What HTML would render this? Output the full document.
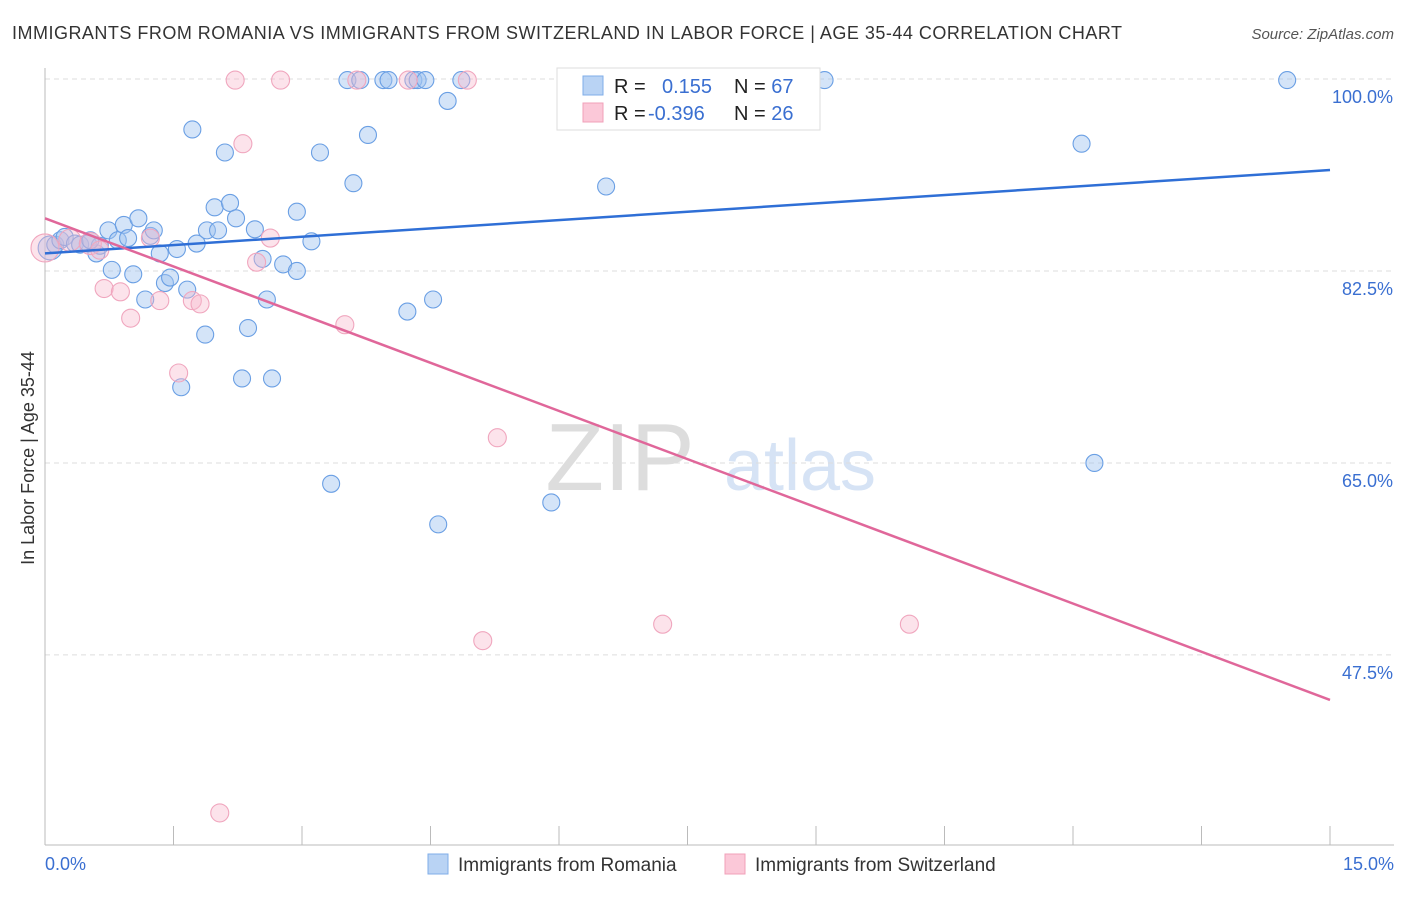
<!DOCTYPE html>
<html><head><meta charset="utf-8"><style>
body{margin:0;background:#fff;font-family:"Liberation Sans",sans-serif;}
svg text{font-family:"Liberation Sans",sans-serif;}
</style></head><body>
<svg id="chart" width="1406" height="892">
<text x="12" y="39" font-size="18" fill="#333" textLength="1110" lengthAdjust="spacing">IMMIGRANTS FROM ROMANIA VS IMMIGRANTS FROM SWITZERLAND IN LABOR FORCE | AGE 35-44 CORRELATION CHART</text>
<text x="1394" y="39" font-size="15" fill="#555" font-style="italic" text-anchor="end">Source: ZipAtlas.com</text>
<text x="620" y="490" font-size="96" fill="#ddd" font-family="Liberation Serif" text-anchor="middle">ZIP</text>
<text x="800" y="490" font-size="72" fill="#d6e3f5" text-anchor="middle">atlas</text>
<text transform="translate(34,458) rotate(-90)" font-size="18" fill="#333" text-anchor="middle">In Labor Force | Age 35-44</text>
<g id="grid"></g><g id="axes"></g><g id="pts"></g><g id="lines"></g>
<g>
<rect x="557" y="68" width="263" height="62" fill="#fff" stroke="#ddd"/>
<rect x="583" y="76" width="20" height="19" fill="#b9d3f4" stroke="#7faee8"/>
<rect x="583" y="103" width="20" height="19" fill="#fbc8d8" stroke="#f0a0b9"/>
<text x="614" y="93" font-size="20" fill="#222">R = <tspan fill="#3a6fd1" x="662">0.155</tspan><tspan fill="#222" x="734">N = </tspan><tspan fill="#3a6fd1">67</tspan></text>
<text x="614" y="120" font-size="20" fill="#222">R = <tspan fill="#3a6fd1" x="648">-0.396</tspan><tspan fill="#222" x="734">N = </tspan><tspan fill="#3a6fd1">26</tspan></text>
</g>
<g>
<rect x="428" y="854" width="20" height="20" fill="#b9d3f4" stroke="#7faee8"/>
<text x="458" y="871" font-size="19" fill="#333">Immigrants from Romania</text>
<rect x="725" y="854" width="20" height="20" fill="#fbc8d8" stroke="#f0a0b9"/>
<text x="755" y="871" font-size="19" fill="#333">Immigrants from Switzerland</text>
</g>
</svg>
<script>
const blueX=[0.06,0.12,0.18,0.23,0.35,0.41,0.50,0.60,0.64,0.74,0.78,0.85,0.92,0.97,1.03,1.09,1.17,1.23,1.27,1.34,1.40,1.46,1.54,1.59,1.66,1.72,1.77,1.87,1.89,1.98,2.02,2.10,2.16,2.23,2.30,2.37,2.45,2.54,2.59,2.65,2.78,2.94,2.94,3.11,3.21,3.34,3.53,3.60,3.68,3.77,3.95,4.01,4.23,4.30,4.35,4.44,4.53,4.59,4.70,4.86,5.91,6.55,9.10,12.10,12.25,14.50,0.53];
const blueY=[84.6,84.9,85.3,85.6,85.0,84.9,85.0,84.1,84.8,86.2,82.6,85.3,86.7,85.5,82.2,87.3,79.9,85.7,86.2,84.1,81.4,81.9,84.5,71.9,80.8,95.4,85.0,76.7,86.2,88.3,86.2,93.3,88.7,87.3,72.7,77.3,86.3,83.6,79.9,72.7,83.1,87.9,82.5,85.2,93.3,63.1,99.9,90.5,99.9,94.9,99.9,99.9,78.8,99.9,99.9,99.9,79.9,59.4,98.0,99.9,61.4,90.2,99.9,94.1,65.0,99.9,85.3];
const pinkX=[0.00,0.29,0.53,0.69,0.88,1.00,1.23,1.34,1.56,1.72,1.81,2.04,2.22,2.31,2.47,2.63,2.75,3.50,3.64,4.24,4.93,5.28,5.11,7.21,10.09,0.64];
const pinkY=[84.6,85.3,85.0,80.9,80.6,78.2,85.5,79.8,73.2,79.8,79.5,33.1,99.9,94.1,83.3,85.5,99.9,77.6,99.9,99.9,99.9,67.3,48.8,50.3,50.3,84.4];
const pinkR=[14,11,11,9,9,9,9,9,9,9,9,9,9,9,9,9,9,9,9,9,9,9,9,9,9,9];
const yTicks=[100,82.5,65,47.5];
const yTickLabels=["100.0%","82.5%","65.0%","47.5%"];
const xTicks=[0,1.5,3,4.5,6,7.5,9,10.5,12,13.5,15];
const trendBlue=[84.1,91.7];
const trendPink=[87.3,43.4];
const X=v=>45+v/15*1285, Y=v=>79+(100-v)*10.97;
const NS="http://www.w3.org/2000/svg";
function mk(p,t,a){const e=document.createElementNS(NS,t);for(const k in a)e.setAttribute(k,a[k]);document.getElementById(p).appendChild(e);return e;}
yTicks.forEach((v,i)=>{
 const l=mk('grid','line',{x1:45,x2:1394,y1:Y(v),y2:Y(v),stroke:'#ddd','stroke-dasharray':'5,4'});
 
 
 const t=mk('grid','text',{x:1393,y:Y(v)+24,'font-size':18,fill:'#3a6fd1','text-anchor':'end'});
 t.textContent=yTickLabels[i];
 
 
});
const ya=mk('axes','line',{x1:45,x2:45,y1:68,y2:845,stroke:'#bbb'});


const xa=mk('axes','line',{x1:45,x2:1394,y1:845,y2:845,stroke:'#bbb'});


xTicks.forEach(v=>{const t=mk('axes','line',{x1:X(v),x2:X(v),y1:826,y2:845,stroke:'#bbb'});
 
 });
const x0=mk('axes','text',{x:45,y:870,'font-size':18,fill:'#3a6fd1'});x0.textContent='0.0%';


const x1=mk('axes','text',{x:1394,y:870,'font-size':18,fill:'#3a6fd1','text-anchor':'end'});x1.textContent='15.0%';


blueX.forEach((v,i)=>{const c=mk('pts','circle',{cx:X(v),cy:Y(blueY[i]),r:i==0?12:8.5,fill:'rgba(160,195,240,0.45)',stroke:'#6a9fe4','stroke-width':1.1});
 
 });
pinkX.forEach((v,i)=>{const c=mk('pts','circle',{cx:X(v),cy:Y(pinkY[i]),r:pinkR[i],fill:'rgba(248,185,205,0.4)',stroke:'#f0a6be','stroke-width':1.1});
 
 });
const lb=mk('lines','line',{x1:X(0),y1:Y(trendBlue[0]),x2:X(15),y2:Y(trendBlue[1]),stroke:'#2f6fd6','stroke-width':2.5});


const lp=mk('lines','line',{x1:X(0),y1:Y(trendPink[0]),x2:X(15),y2:Y(trendPink[1]),stroke:'#e0679a','stroke-width':2.5});


</script>
</body></html>
